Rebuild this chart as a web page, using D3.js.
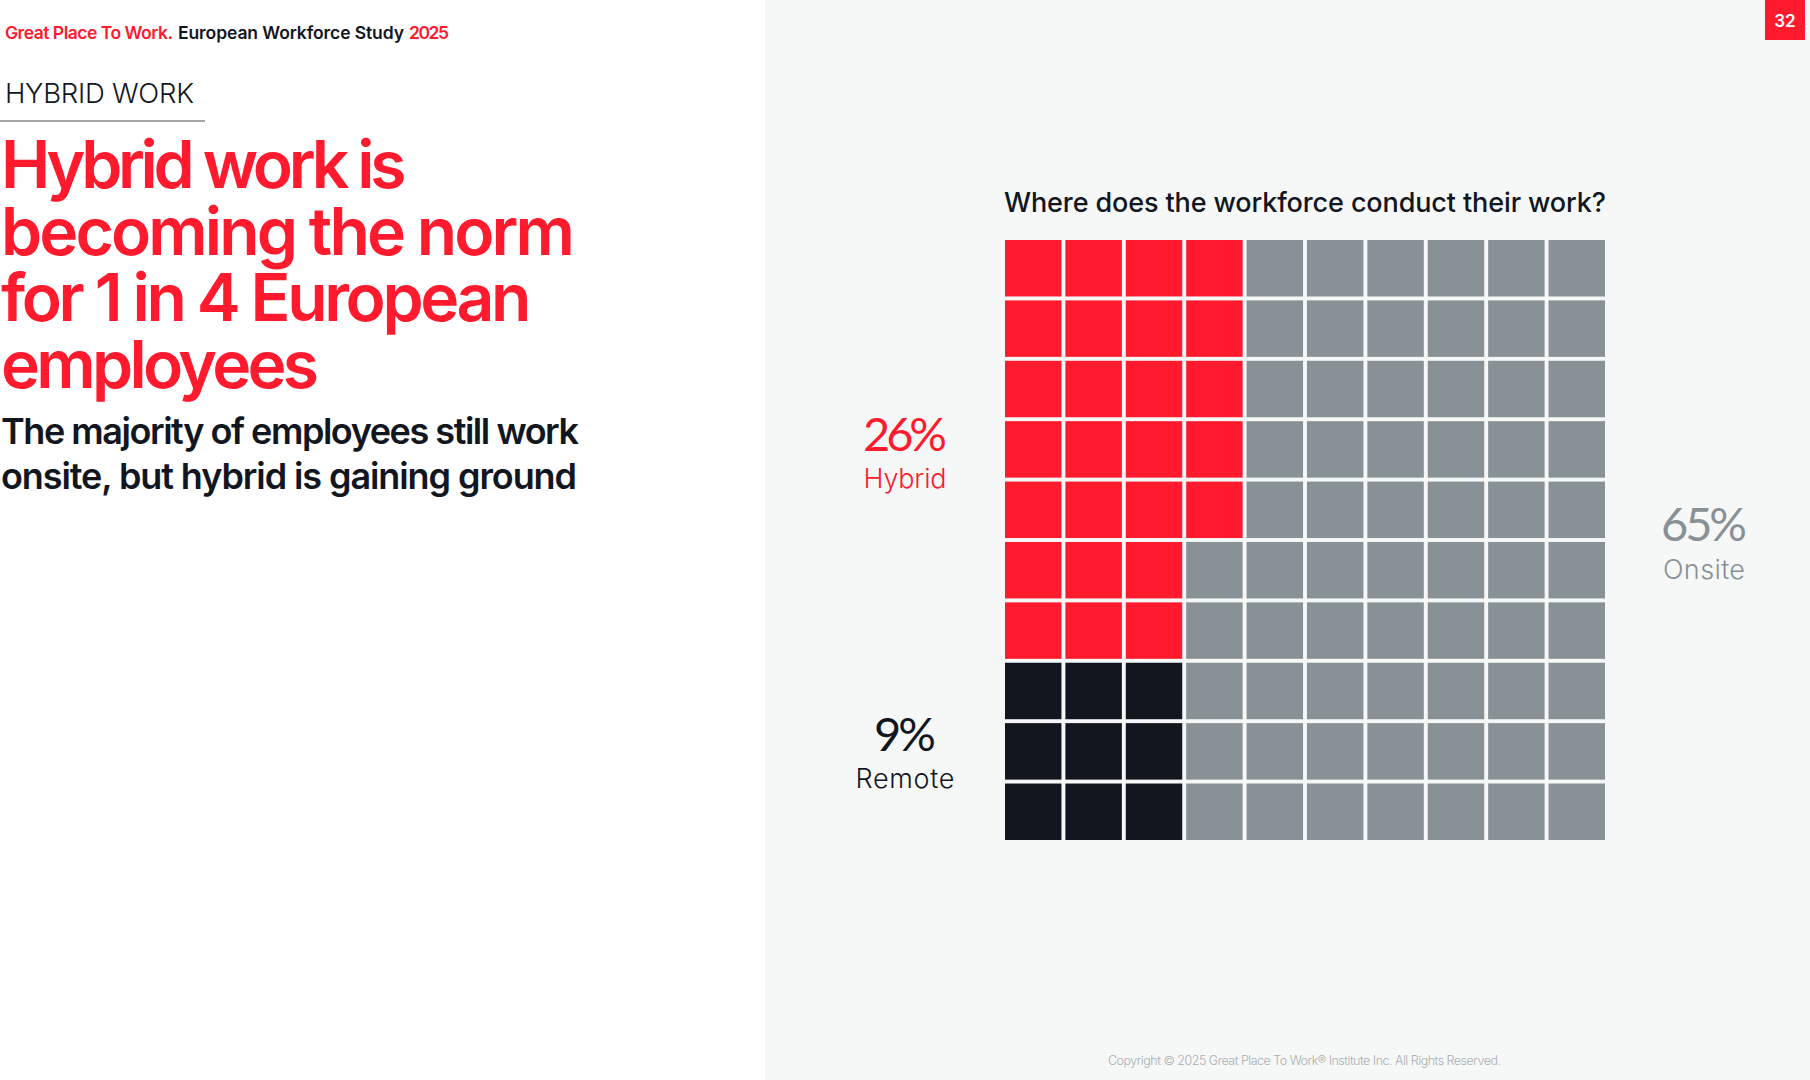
<!DOCTYPE html>
<html><head><meta charset="utf-8">
<script src="https://cdn.jsdelivr.net/npm/d3@7/dist/d3.min.js"></script>
<style>html,body{margin:0;padding:0;background:#fff;overflow:hidden}svg{display:block}text{font-family:Inter,sans-serif}</style>
</head><body><svg id="c" width="1810" height="1080"></svg>
<script>
const categories = ["Hybrid", "Remote", "Onsite"];
const shares = [26, 9, 65];
const rowLabels = d3.range(10);
const colLabels = d3.range(10);
const titleLines = ["Hybrid work is", "becoming the norm", "for 1 in 4 European", "employees"];
const subtitleLines = ["The majority of employees still work", "onsite, but hybrid is gaining ground"];

const RED = "#ff1a2d", GRAY = "#879196", INK = "#12161f";
const colorOf = d3.scaleOrdinal().domain(categories).range([RED, INK, GRAY]);

const svg = d3.select("#c");
svg.append("rect").attr("width", 1810).attr("height", 1080).attr("fill", "#fff");
svg.append("rect").attr("x", 765).attr("width", 1045).attr("height", 1080).attr("fill", "#f6f8f8");

// Letter-spacing is derived from the measured width so the line spans the wanted width.
function fit(sel, width) {
  const n = sel.node(), s = sel.text();
  sel.attr("letter-spacing", (width - n.getComputedTextLength()) / Math.max(1, s.length - 1));
  return sel;
}
function text(parent, str, x, y, size, weight, fill, width, anchor, family) {
  const t = parent.append("text").attr("x", x).attr("y", y)
    .attr("font-size", size).attr("font-weight", weight).attr("fill", fill)
    .attr("text-anchor", anchor || "start").text(str);
  if (family) t.style("font-family", family);
  if (width) fit(t, width);
  return t;
}
function block(lines, widths, x, y0, dy, size, weight, fill) {
  const t = svg.append("text").attr("font-size", size).attr("font-weight", weight).attr("fill", fill);
  lines.forEach((l, i) => {
    fit(t.append("tspan").attr("x", x).attr("y", y0 + i * dy).text(l), widths[i]);
  });
}

// Header
text(svg, "Great Place To Work.", 5, 38.5, 17.5, 600, RED, 168);
text(svg, "European Workforce Study", 178, 38.5, 17.5, 600, INK, 226);
text(svg, "2025", 409, 38.5, 17.5, 600, RED, 40);

text(svg, "HYBRID WORK", 5, 102.5, 27.5, 300, INK, 189);
svg.append("line").attr("x1", 0).attr("x2", 205).attr("y1", 121).attr("y2", 121)
  .attr("stroke", "#85888c").attr("stroke-width", 1.3);

block(titleLines, [405.5, 574, 530.5, 318], 1, 188, 66.5, 66, 560, RED);
block(subtitleLines, [578, 576], 1, 444, 45, 36, 560, INK);

// Waffle
const x = d3.scaleBand().domain(colLabels).range([1005, 1605]).paddingInner(0.065);
const y = d3.scaleBand().domain(rowLabels).range([240, 840]).paddingInner(0.065);
const remoteSide = Math.sqrt(shares[1]);
let hybridLeft = shares[0];
const cells = [];
colLabels.forEach(c => rowLabels.forEach(r => {
  let cat;
  if (c < remoteSide && r >= 10 - remoteSide) cat = categories[1];
  else if (hybridLeft > 0) { cat = categories[0]; hybridLeft--; }
  else cat = categories[2];
  cells.push({ c, r, cat });
}));
svg.append("g").selectAll("rect").data(cells).join("rect")
  .attr("x", d => x(d.c)).attr("y", d => y(d.r))
  .attr("width", x.bandwidth()).attr("height", y.bandwidth())
  .attr("fill", d => colorOf(d.cat));

text(svg, "Where does the workforce conduct their work?", 1004, 211.5, 27, 500, INK, 602);

// Labels
const labelPos = [[905, 451, 488], [905, 751, 788], [1704, 541, 579]];
const pctW = [84, 62, 86], nameW = [83, 99, 82];
categories.forEach((cat, i) => {
  const [cx, y1, y2] = labelPos[i];
  text(svg, shares[i] + "%", cx - pctW[i] / 2, y1, 47, 400, colorOf(cat), pctW[i], null, "Lato");
  text(svg, cat, cx - nameW[i] / 2, y2, 27, 300, colorOf(cat), nameW[i]);
});

// Footer, badge
text(svg, "Copyright © 2025 Great Place To Work® Institute Inc. All Rights Reserved.", 1108, 1065, 12.5, 300, "#a9afb2", 393);
svg.append("rect").attr("x", 1765).attr("y", 0).attr("width", 40).attr("height", 40).attr("fill", RED);
text(svg, "32", 1785, 27, 17, 600, "#fff", null, "middle");
</script></body></html>
